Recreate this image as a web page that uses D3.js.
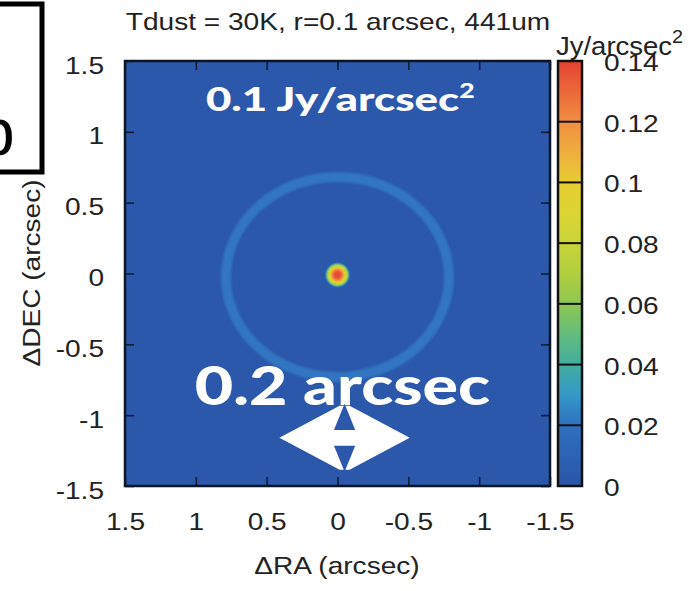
<!DOCTYPE html>
<html>
<head>
<meta charset="utf-8">
<script src="https://cdn.jsdelivr.net/npm/d3@7"></script>
<style>
  body { margin: 0; background: #fff; }
  text { font-family: "Liberation Sans", Arial, sans-serif; }
</style>
</head>
<body>
<script>
// ---- data ----
var title = "Tdust = 30K, r=0.1 arcsec, 441um";
var raTicks = [1.5, 1, 0.5, 0, -0.5, -1, -1.5];
var decTicks = [1.5, 1, 0.5, 0, -0.5, -1, -1.5];
var cbTicks = [0, 0.02, 0.04, 0.06, 0.08, 0.1, 0.12, 0.14];
var cbTickLabels = ["0", "0.02", "0.04", "0.06", "0.08", "0.1", "0.12", "0.14"];

// colour map (value -> colour)
var cmapValues = [0, 0.02, 0.03, 0.04, 0.05, 0.06, 0.07, 0.08, 0.09, 0.1, 0.11, 0.12, 0.13, 0.14];
var cmapColors = ["#2a55a7", "#2f70c0", "#3598c8", "#43ad9f", "#62bd7c", "#8ec651", "#b0cf3e",
                  "#c9d438", "#dcd534", "#e8cd32", "#eeae3e", "#f08e40", "#ec683a", "#e54231"];

// map components (arcsec, Jy/arcsec^2)
var background = 0.002;
var ring = {ra: 0, dec: -0.025, rx: 0.787, ry: 0.706, width: 0.07, value: 0.021};
var source = {ra: 0, dec: -0.01};
var sourceR = [0, 0.023, 0.038, 0.053, 0.068, 0.076, 0.084, 0.092];
var sourceV = [0.14, 0.135, 0.12, 0.095, 0.075, 0.05, 0.022, 0.002];

// annotations
var fluxLabel = {text: "0.1 Jy/arcsec", sup: "2", ra: -0.02, dec: 1.15};
var sizeLabel = {text: "0.2 arcsec", ra: -0.035, dec: -0.93};
var arrow = {ra: -0.05, dec: -1.16, half: 0.46, back: 0.035, headH: 0.226,
             wedgeTop: 0.24, wedgeBase: 0.056, wedgeW: 0.075};

// ---- layout ----
var W = 693, H = 591;
var plot = {left: 125, top: 61, size: 425};
var cb = {left: 558, width: 24};
var sx = 1.17; // the source fonts are wider than Arial
var fs = "24px";

var svg = d3.select("body").append("svg")
  .attr("width", W).attr("height", H);

var x = d3.scaleLinear().domain([1.5, -1.5]).range([plot.left, plot.left + plot.size]);
var y = d3.scaleLinear().domain([-1.5, 1.5]).range([plot.top + plot.size, plot.top]);
var k = plot.size / 3; // px per arcsec
var color = d3.scaleLinear().domain(cmapValues).range(cmapColors).clamp(true);
var cy = d3.scaleLinear().domain([0, 0.14]).range([plot.top + plot.size, plot.top]);

var defs = svg.append("defs");
defs.append("clipPath").attr("id", "plotclip")
  .append("rect")
  .attr("x", plot.left).attr("y", plot.top)
  .attr("width", plot.size).attr("height", plot.size);
defs.append("filter").attr("id", "soft")
  .append("feGaussianBlur").attr("stdDeviation", 1);

// source radial profile
var rg = defs.append("radialGradient").attr("id", "srcgrad")
  .attr("gradientUnits", "userSpaceOnUse")
  .attr("cx", x(source.ra)).attr("cy", y(source.dec))
  .attr("r", sourceR[sourceR.length - 1] * k);
sourceR.forEach(function(r, i) {
  rg.append("stop")
    .attr("offset", r / sourceR[sourceR.length - 1])
    .attr("stop-color", color(sourceV[i]));
});

// colourbar gradient
var lg = defs.append("linearGradient").attr("id", "cbgrad")
  .attr("x1", 0).attr("y1", 1).attr("x2", 0).attr("y2", 0);
cmapValues.forEach(function(v, i) {
  lg.append("stop").attr("offset", v / 0.14).attr("stop-color", cmapColors[i]);
});

// ---- map ----
var map = svg.append("g").attr("clip-path", "url(#plotclip)");
map.append("rect")
  .attr("x", plot.left).attr("y", plot.top)
  .attr("width", plot.size).attr("height", plot.size)
  .attr("fill", color(background));

map.append("ellipse")
  .attr("cx", x(ring.ra)).attr("cy", y(ring.dec))
  .attr("rx", ring.rx * k).attr("ry", ring.ry * k)
  .attr("fill", "none")
  .attr("stroke", color(ring.value))
  .attr("stroke-width", ring.width * k)
  .attr("filter", "url(#soft)");

map.append("circle")
  .attr("cx", x(source.ra)).attr("cy", y(source.dec))
  .attr("r", sourceR[sourceR.length - 1] * k)
  .attr("fill", "url(#srcgrad)");

// white annotations
var ft = map.append("text")
  .attr("transform", "translate(" + x(fluxLabel.ra) + "," + y(fluxLabel.dec) + ") scale(1.33,1)")
  .attr("text-anchor", "middle")
  .style("font-family", "Lato, 'Open Sans', sans-serif")
  .style("font-weight", "900")
  .style("font-size", "33px")
  .attr("fill", "#fff");
ft.append("tspan").text(fluxLabel.text);
ft.append("tspan").attr("dy", -13).style("font-size", "20px").text(fluxLabel.sup);

map.append("text")
  .attr("transform", "translate(" + x(sizeLabel.ra) + "," + y(sizeLabel.dec) + ") scale(1.25,1)")
  .attr("text-anchor", "middle")
  .style("font-family", "Lato, 'Open Sans', sans-serif")
  .style("font-weight", "900")
  .style("font-size", "53px")
  .attr("fill", "#fff")
  .text(sizeLabel.text);

var ax = x(arrow.ra), ay = y(arrow.dec);
var a = arrow;
function pts(list) { return list.map(function(p) { return p.join(","); }).join(" "); }
map.append("polygon")
  .attr("points", pts([
    [ax - a.half * k, ay],
    [ax - a.back * k, ay - a.headH * k],
    [ax + a.back * k, ay - a.headH * k],
    [ax + a.half * k, ay],
    [ax + a.back * k, ay + a.headH * k],
    [ax - a.back * k, ay + a.headH * k]
  ]))
  .attr("fill", "#fff");
[-1, 1].forEach(function(s) {
  map.append("polygon")
    .attr("points", pts([
      [ax, ay + s * a.wedgeTop * k],
      [ax - a.wedgeW * k, ay + s * a.wedgeBase * k],
      [ax + a.wedgeW * k, ay + s * a.wedgeBase * k]
    ]))
    .attr("fill", color(background));
});

// ---- axes (ticks inward) ----
function styleAxis(g) {
  g.select(".domain").remove();
  g.selectAll(".tick line").attr("stroke", "#101828").attr("stroke-width", 1.5);
  g.selectAll(".tick text").attr("fill", "#222").style("font-size", fs);
}
var bottom = svg.append("g")
  .attr("transform", "translate(0," + (plot.top + plot.size) + ")")
  .call(d3.axisBottom(x).tickValues(raTicks).tickSize(-9).tickPadding(27)
    .tickFormat(function(d) { return String(d); }))
  .call(styleAxis);
bottom.selectAll(".tick text").attr("transform", "scale(" + sx + ",1)");

svg.append("g")
  .attr("transform", "translate(0," + plot.top + ")")
  .call(d3.axisTop(x).tickValues(raTicks).tickSize(-9).tickFormat(""))
  .call(styleAxis);

var left = svg.append("g")
  .attr("transform", "translate(" + plot.left + ",0)")
  .call(d3.axisLeft(y).tickValues(decTicks).tickSize(-9).tickPadding(21)
    .tickFormat(function(d) { return String(d); }))
  .call(styleAxis);
left.selectAll(".tick text")
  .attr("x", -21 / sx)
  .attr("dy", "0.5em")
  .attr("transform", "scale(" + sx + ",1)");

svg.append("g")
  .attr("transform", "translate(" + (plot.left + plot.size) + ",0)")
  .call(d3.axisRight(y).tickValues(decTicks).tickSize(-9).tickFormat(""))
  .call(styleAxis);

svg.append("rect")
  .attr("x", plot.left).attr("y", plot.top)
  .attr("width", plot.size).attr("height", plot.size)
  .attr("fill", "none").attr("stroke", "#0d1424").attr("stroke-width", 2.5);

// ---- colourbar ----
svg.append("rect")
  .attr("x", cb.left).attr("y", plot.top)
  .attr("width", cb.width).attr("height", plot.size)
  .attr("fill", "url(#cbgrad)");

svg.append("g").selectAll("line")
  .data(cbTicks.slice(1, -1))
  .join("line")
  .attr("x1", cb.left).attr("x2", cb.left + cb.width)
  .attr("y1", function(d) { return cy(d); })
  .attr("y2", function(d) { return cy(d); })
  .attr("stroke", "#111").attr("stroke-width", 2);

svg.append("rect")
  .attr("x", cb.left).attr("y", plot.top)
  .attr("width", cb.width).attr("height", plot.size)
  .attr("fill", "none").attr("stroke", "#111").attr("stroke-width", 2.5);

svg.append("g").selectAll("text")
  .data(cbTicks)
  .join("text")
  .attr("transform", function(d) { return "translate(604," + (cy(d) + 10) + ") scale(" + sx + ",1)"; })
  .attr("fill", "#222")
  .style("font-size", fs)
  .text(function(d, i) { return cbTickLabels[i]; });

var cbl = svg.append("text")
  .attr("transform", "translate(556,55) scale(1.1,1)")
  .attr("fill", "#222")
  .style("font-size", "25px");
cbl.append("tspan").text("Jy/arcsec");
cbl.append("tspan").attr("dy", -12).style("font-size", "18px").text("2");

// ---- titles ----
svg.append("text")
  .attr("transform", "translate(338,30) scale(" + sx + ",1)")
  .attr("text-anchor", "middle")
  .attr("fill", "#222")
  .style("font-size", fs)
  .text(title);

svg.append("text")
  .attr("transform", "translate(337,574) scale(" + sx + ",1)")
  .attr("text-anchor", "middle")
  .attr("fill", "#222")
  .style("font-size", fs)
  .text("\u0394RA (arcsec)");

svg.append("text")
  .attr("transform", "translate(40,273) rotate(-90) scale(" + sx + ",1)")
  .attr("text-anchor", "middle")
  .attr("fill", "#222")
  .style("font-size", fs)
  .text("\u0394DEC (arcsec)");

// ---- panel box (cut off at the left) ----
svg.append("rect")
  .attr("x", -10).attr("y", 4)
  .attr("width", 52).attr("height", 168)
  .attr("fill", "none").attr("stroke", "#000").attr("stroke-width", 5);
svg.append("text")
  .attr("x", -22).attr("y", 155)
  .attr("fill", "#000")
  .style("font-size", "66px")
  .text("b");
</script>
</body>
</html>
